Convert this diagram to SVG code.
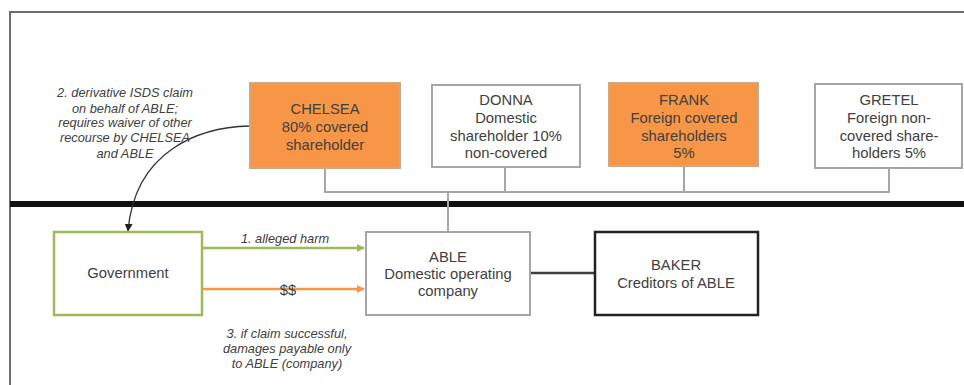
<svg xmlns="http://www.w3.org/2000/svg" width="964" height="385" viewBox="0 0 964 385">
<style>
text{font-family:"Liberation Sans",Arial,sans-serif;fill:#404040;text-anchor:middle}
.n{font-size:14.8px}
.i{font-size:12.8px;font-style:italic}
.grey{fill:#fff;stroke:#a6a6a6;stroke-width:2}
.orange{fill:#f79646;stroke:#c9a98c;stroke-width:2}
.conn{fill:none;stroke:#a6a6a6;stroke-width:2}
</style>
<defs>
<marker id="ab" viewBox="0 0 10 10" refX="9" refY="5" markerWidth="8" markerHeight="8" markerUnits="userSpaceOnUse" orient="auto"><path d="M0,0L10,5L0,10z" fill="#222"/></marker>
<marker id="ag" viewBox="0 0 10 10" refX="9" refY="5" markerWidth="8" markerHeight="8" markerUnits="userSpaceOnUse" orient="auto"><path d="M0,0L10,5L0,10z" fill="#9bbb59"/></marker>
<marker id="ao" viewBox="0 0 10 10" refX="9" refY="5" markerWidth="8" markerHeight="8" markerUnits="userSpaceOnUse" orient="auto"><path d="M0,0L10,5L0,10z" fill="#f79646"/></marker>
</defs>
<rect width="964" height="385" fill="#fff"/>
<path d="M10,385V12H964" fill="none" stroke="#6d6d6d" stroke-width="2"/>
<line x1="10" y1="204" x2="964" y2="204" stroke="#111" stroke-width="6"/>

<g id="connectors">
<path class="conn" d="M325,168V192H889V168M505,168V192M684,166V192M448,192V232"/>
<line x1="530" y1="273" x2="594" y2="273" stroke="#404040" stroke-width="2.5"/>
<line x1="202" y1="248" x2="364" y2="248" stroke="#9bbb59" stroke-width="2.5" marker-end="url(#ag)"/>
<line x1="202" y1="289" x2="364" y2="289" stroke="#f79646" stroke-width="2.5" marker-end="url(#ao)"/>
<path d="M250,126C200,127 135,150 128,231" fill="none" stroke="#333" stroke-width="1.3" marker-end="url(#ab)"/>
<text class="i" x="285" y="243">1. alleged harm</text>
<text class="n" x="288" y="295">$$</text>
<text class="i" x="287" y="338">3. if claim successful,</text>
<text class="i" x="287" y="353">damages payable only</text>
<text class="i" x="287" y="368">to ABLE (company)</text>
<text class="i" x="125" y="97">2. derivative ISDS claim</text>
<text class="i" x="125" y="113">on behalf of ABLE;</text>
<text class="i" x="125" y="127">requires waiver of other</text>
<text class="i" x="125" y="142">recourse by CHELSEA</text>
<text class="i" x="125" y="158">and ABLE</text>
</g>

<g id="chelsea">
<rect class="orange" x="250" y="83" width="150" height="85"/>
<text class="n" x="325" y="114">CHELSEA</text>
<text class="n" x="325" y="132">80% covered</text>
<text class="n" x="325" y="150">shareholder</text>
</g>
<g id="donna">
<rect class="grey" x="432" y="85" width="148" height="82"/>
<text class="n" x="506" y="105">DONNA</text>
<text class="n" x="506" y="123">Domestic</text>
<text class="n" x="506" y="141">shareholder 10%</text>
<text class="n" x="506" y="158">non-covered</text>
</g>
<g id="frank">
<rect class="orange" x="609" y="83" width="149" height="83"/>
<text class="n" x="684" y="105">FRANK</text>
<text class="n" x="684" y="123">Foreign covered</text>
<text class="n" x="684" y="141">shareholders</text>
<text class="n" x="684" y="158">5%</text>
</g>
<g id="gretel">
<rect class="grey" x="815" y="84" width="147" height="84"/>
<text class="n" x="889" y="105">GRETEL</text>
<text class="n" x="889" y="123">Foreign non-</text>
<text class="n" x="889" y="141">covered share-</text>
<text class="n" x="889" y="158">holders 5%</text>
</g>
<g id="government">
<rect x="54" y="232" width="148" height="83" fill="#fff" stroke="#9bbb59" stroke-width="2.5"/>
<text class="n" x="128" y="278">Government</text>
</g>
<g id="able">
<rect class="grey" x="366" y="232" width="164" height="83"/>
<text class="n" x="448" y="262">ABLE</text>
<text class="n" x="448" y="279">Domestic operating</text>
<text class="n" x="448" y="296">company</text>
</g>
<g id="baker">
<rect x="595" y="232" width="163" height="83" fill="#fff" stroke="#222" stroke-width="2.5"/>
<text class="n" x="676" y="270">BAKER</text>
<text class="n" x="676" y="288">Creditors of ABLE</text>
</g>
</svg>
